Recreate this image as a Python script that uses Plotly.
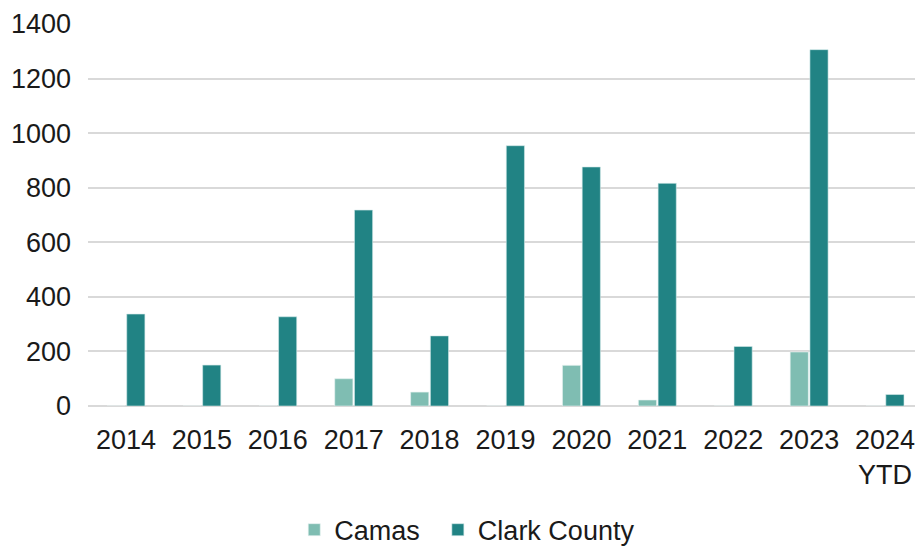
import plotly.graph_objects as go

years = ["2014", "2015", "2016", "2017", "2018", "2019", "2020", "2021", "2022", "2023", "2024<br>YTD"]
camas = [0, 0, 0, 100, 51, 0, 149, 22, 0, 198, 0]
clark_county = [337, 150, 327, 718, 257, 954, 876, 816, 218, 1306, 42]

fig = go.Figure()
fig.add_trace(go.Bar(x=years, y=camas, name="Camas", legend="legend",
                     marker=dict(color="#7fbdb2", line=dict(color="#e8f4f2", width=0.6))))
fig.add_trace(go.Bar(x=years, y=clark_county, name="Clark County", legend="legend2",
                     marker=dict(color="#218384", line=dict(color="#d4eaea", width=0.6))))

# page body has an 8px margin, so the figure is drawn 8px smaller and offset
legend_style = dict(orientation="h", xanchor="left", y=-0.325, yanchor="middle",
                    font=dict(size=27), itemwidth=30, bgcolor="rgba(0,0,0,0)")
fig.update_layout(
    width=915, height=538,
    margin=dict(l=80, r=0, t=16, b=140, autoexpand=False),
    plot_bgcolor="white", paper_bgcolor="white",
    font=dict(family="Liberation Sans, Arial", size=27, color="#1a1a1a"),
    barmode="group", bargap=0.48, bargroupgap=0.08,
    legend=dict(x=0.247, **legend_style),
    legend2=dict(x=0.419, **legend_style),
    showlegend=True,
)
fig.update_yaxes(range=[0, 1400], dtick=200, showgrid=True, gridcolor="#d9d9d9", gridwidth=1.5,
                 zeroline=True, zerolinecolor="#d9d9d9", zerolinewidth=1.5,
                 showline=False, ticklabelstandoff=16, automargin=False)
fig.update_xaxes(showline=False, showgrid=False, ticklabelstandoff=15, automargin=False)

fig.write_html("out.html")
